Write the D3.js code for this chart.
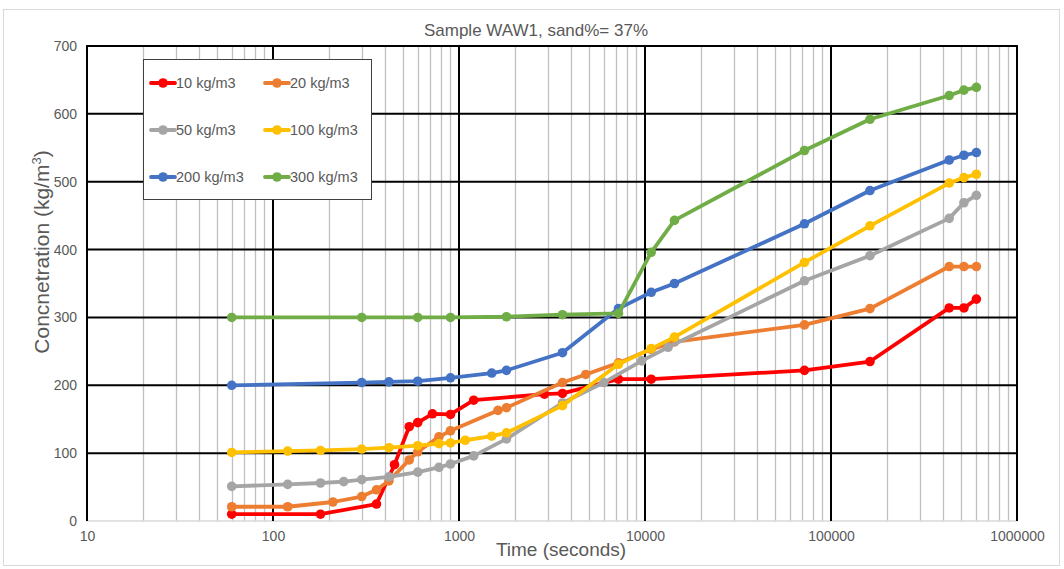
<!DOCTYPE html>
<html>
<head>
<meta charset="utf-8">
<script src="https://cdn.jsdelivr.net/npm/d3@7"></script>
<style>
  html, body { margin: 0; padding: 0; background: #fff; }
  svg { display: block; font-family: "Liberation Sans", Arial, sans-serif; }
</style>
</head>
<body>
<svg id="chart" width="1064" height="569"></svg>
<script>
// Concentration vs. time for sample WAW1 at six initial concentrations
const seriesNames = ["10 kg/m3", "20 kg/m3", "50 kg/m3", "100 kg/m3", "200 kg/m3", "300 kg/m3"];
const seriesColors = ["#FF0000", "#ED7D31", "#A5A5A5", "#FFC000", "#4472C4", "#70AD47"];

const time10 = [60, 180, 360, 450, 540, 600, 720, 900, 1200, 2880, 3600, 7200, 10800, 72000, 162000, 432000, 518400, 604800];
const conc10 = [10, 10, 25, 83, 139, 145, 158, 157, 178, 187, 188, 209, 209, 222, 235, 314, 314, 327];

const time20 = [60, 120, 210, 300, 360, 420, 540, 600, 780, 900, 1620, 1800, 3600, 4800, 7200, 10800, 14400, 72000, 162000, 432000, 518400, 604800];
const conc20 = [21, 21, 28, 36, 46, 59, 90, 102, 124, 133, 163, 167, 204, 216, 233, 253, 264, 289, 313, 375, 375, 375];

const time50 = [60, 120, 180, 240, 300, 420, 600, 780, 900, 1200, 1800, 3600, 6000, 9600, 13300, 72000, 162000, 432000, 518400, 604800];
const conc50 = [51, 54, 56, 58, 61, 65, 72, 79, 84, 96, 121, 174, 204, 236, 256, 354, 391, 446, 469, 480];

const time100 = [60, 120, 180, 300, 420, 600, 780, 900, 1080, 1500, 1800, 3600, 7200, 10800, 14400, 72000, 162000, 432000, 518400, 604800];
const conc100 = [101, 103, 104, 106, 108, 111, 114, 115, 119, 125, 130, 170, 231, 254, 271, 381, 435, 498, 506, 511];

const time200 = [60, 300, 420, 600, 900, 1500, 1800, 3600, 7200, 10800, 14400, 72000, 162000, 432000, 518400, 604800];
const conc200 = [200, 204, 205, 206, 211, 218, 222, 248, 313, 337, 350, 438, 487, 532, 539, 543];

const time300 = [60, 300, 600, 900, 1800, 3600, 7200, 10800, 14400, 72000, 162000, 432000, 518400, 604800];
const conc300 = [300, 300, 300, 300, 301, 304, 306, 396, 443, 546, 592, 627, 635, 639];

const xTickValues = [10, 100, 1000, 10000, 100000, 1000000];
const yTickValues = [0, 100, 200, 300, 400, 500, 600, 700];

const titleText = "Sample WAW1, sand%= 37%";
const xLabel = "Time (seconds)";

const seriesTimes = [time10, time20, time50, time100, time200, time300];
const seriesConcs = [conc10, conc20, conc50, conc100, conc200, conc300];
const series = seriesNames.map((name, i) => ({
  name,
  color: seriesColors[i],
  points: seriesTimes[i].map((t, j) => ({ t, c: seriesConcs[i][j] }))
}));

const svg = d3.select("#chart");
const plot = { left: 87, right: 1017, top: 46, bottom: 521 };

const x = d3.scaleLog().domain([10, 1000000]).range([plot.left, plot.right]);
const y = d3.scaleLinear().domain([0, 700]).range([plot.bottom, plot.top]);

// chart frame
svg.append("rect")
  .attr("x", 3.5).attr("y", 9.5).attr("width", 1056).attr("height", 556)
  .attr("fill", "#fff").attr("stroke", "#d9d9d9").attr("stroke-width", 1);

// minor vertical gridlines (2..9 in each decade)
const minorTicks = [];
for (let p = 1; p < 6; p++) {
  for (let m = 2; m <= 9; m++) minorTicks.push(m * Math.pow(10, p));
}
svg.append("g").selectAll("line").data(minorTicks).join("line")
  .attr("x1", d => Math.round(x(d)) + 0.5).attr("x2", d => Math.round(x(d)) + 0.5)
  .attr("y1", plot.top).attr("y2", plot.bottom)
  .attr("stroke", "#bfbfbf").attr("stroke-width", 1.3);

// bottom axis line
svg.append("line")
  .attr("x1", plot.left).attr("x2", plot.right)
  .attr("y1", plot.bottom).attr("y2", plot.bottom)
  .attr("stroke", "#d9d9d9").attr("stroke-width", 1.5);

// major horizontal gridlines
svg.append("g").selectAll("line").data(yTickValues.filter(v => v > 0)).join("line")
  .attr("x1", plot.left).attr("x2", plot.right)
  .attr("y1", d => y(d)).attr("y2", d => y(d))
  .attr("stroke", "#000").attr("stroke-width", 2);

// major vertical gridlines (decades)
svg.append("g").selectAll("line").data(xTickValues).join("line")
  .attr("x1", d => x(d)).attr("x2", d => x(d))
  .attr("y1", plot.top - 1).attr("y2", plot.bottom)
  .attr("stroke", "#000").attr("stroke-width", 2);

// x axis tick labels
const xAxis = d3.axisBottom(x).tickValues(xTickValues).tickFormat(d3.format("d")).tickSize(0).tickPadding(10);
const gx = svg.append("g").attr("transform", `translate(0,${plot.bottom})`).call(xAxis);
gx.select(".domain").remove();
gx.selectAll("text").attr("fill", "#595959").style("font-size", "14px")
  .style("font-family", "'Liberation Sans', Arial, sans-serif");

// y axis tick labels
const yAxis = d3.axisLeft(y).tickValues(yTickValues).tickFormat(d3.format("d")).tickSize(0).tickPadding(10);
const gy = svg.append("g").attr("transform", `translate(${plot.left},0)`).call(yAxis);
gy.select(".domain").remove();
gy.selectAll("text").attr("fill", "#595959").style("font-size", "14px")
  .style("font-family", "'Liberation Sans', Arial, sans-serif");

// series lines and markers
const line = d3.line().x(d => x(d.t)).y(d => y(d.c));
series.forEach(s => {
  const g = svg.append("g");
  g.append("path").datum(s.points)
    .attr("d", line).attr("fill", "none")
    .attr("stroke", s.color).attr("stroke-width", 3.8)
    .attr("stroke-linejoin", "round").attr("stroke-linecap", "round");
  g.selectAll("circle").data(s.points).join("circle")
    .attr("cx", d => x(d.t)).attr("cy", d => y(d.c)).attr("r", 4.8)
    .attr("fill", s.color);
});

// title
svg.append("text")
  .attr("x", 536).attr("y", 36).attr("text-anchor", "middle")
  .attr("fill", "#595959").style("font-size", "17px")
  .style("font-family", "'Liberation Sans Narrow', 'Liberation Sans', Arial, sans-serif")
  .text(titleText);

// x axis title
svg.append("text")
  .attr("x", 561).attr("y", 556).attr("text-anchor", "middle")
  .attr("fill", "#595959").style("font-size", "19px")
  .style("font-family", "'Liberation Sans Narrow', 'Liberation Sans', Arial, sans-serif")
  .text(xLabel);

// y axis title with superscript
const yt = svg.append("text")
  .attr("transform", "translate(49,252) rotate(-90)")
  .attr("text-anchor", "middle")
  .attr("fill", "#595959").style("font-size", "21px")
  .style("font-family", "'Liberation Sans Narrow', 'Liberation Sans', Arial, sans-serif");
yt.append("tspan").text("Concnetration (kg/m");
yt.append("tspan").attr("dy", -8).style("font-size", "13px").text("3");
yt.append("tspan").attr("dy", 8).text(")");

// legend
const legend = svg.append("g");
legend.append("rect")
  .attr("x", 143.5).attr("y", 59.5).attr("width", 228).attr("height", 140)
  .attr("fill", "#fff").attr("stroke", "#404040").attr("stroke-width", 1);
const colX = [151, 265];
const rowY = [83, 130, 177];
series.forEach((s, i) => {
  const lx = colX[i % 2], ly = rowY[Math.floor(i / 2)];
  legend.append("line")
    .attr("x1", lx).attr("x2", lx + 24).attr("y1", ly).attr("y2", ly)
    .attr("stroke", s.color).attr("stroke-width", 3.8).attr("stroke-linecap", "round");
  legend.append("circle").attr("cx", lx + 12).attr("cy", ly).attr("r", 4.8).attr("fill", s.color);
  legend.append("text")
    .attr("x", lx + 25).attr("y", ly + 5)
    .attr("fill", "#595959").style("font-size", "14.5px")
    .text(s.name);
});
</script>
</body>
</html>
